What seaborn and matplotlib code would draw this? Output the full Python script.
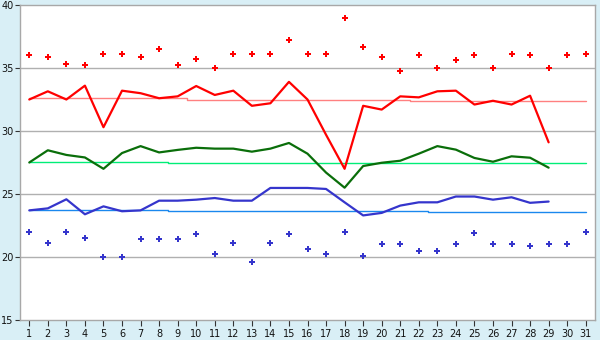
import numpy as np
import pandas as pd
import matplotlib
matplotlib.use("Agg")
import matplotlib.pyplot as plt
import seaborn as sns

days = list(range(1, 32))

# daily max (points) and min (points)
max_points = [36.0, 35.9, 35.3, 35.2, 36.1, 36.1, 35.85, 36.5, 35.2, 35.7,
              35.0, 36.1, 36.1, 36.1, 37.2, 36.1, 36.1, 39.0, 36.7, 35.9,
              34.8, 36.0, 35.0, 35.6, 36.0, 35.0, 36.1, 36.0, 35.0, 36.0, 36.1]
min_points = [22.0, 21.1, 22.0, 21.5, 20.0, 20.0, 21.4, 21.4, 21.4, 21.8,
              20.2, 21.1, 19.6, 21.1, 21.8, 20.6, 20.2, 22.0, 20.1, 21.0,
              21.0, 20.5, 20.5, 21.0, 21.9, 21.0, 21.0, 20.9, 21.0, 21.0, 22.0]

# lines (days 1-29)
line_days = list(range(1, 30))
max_line = [32.5, 33.15, 32.5, 33.6, 30.3, 33.2, 33.0, 32.6, 32.75, 33.57,
            32.86, 33.2, 32.0, 32.2, 33.9, 32.5, 29.7, 27.0, 32.0, 31.7,
            32.75, 32.67, 33.15, 33.2, 32.1, 32.4, 32.1, 32.8, 29.1]
mean_line = [27.5, 28.47, 28.1, 27.9, 27.0, 28.25, 28.8, 28.3, 28.5, 28.67,
             28.6, 28.6, 28.36, 28.6, 29.05, 28.2, 26.7, 25.5, 27.22, 27.48,
             27.64, 28.2, 28.8, 28.52, 27.86, 27.56, 27.99, 27.88, 27.09]
min_line = [23.7, 23.86, 24.58, 23.39, 24.02, 23.63, 23.7, 24.47, 24.47, 24.55,
            24.68, 24.47, 24.47, 25.48, 25.48, 25.48, 25.4, 24.34, 23.3, 23.5,
            24.08, 24.34, 24.34, 24.8, 24.8, 24.55, 24.74, 24.3, 24.4]

# normals (days 1-31)
max_normal = [32.6] * 9 + [32.5] * 12 + [32.4] * 10
mean_normal = [27.56] * 8 + [27.5] * 13 + [27.43] * 10
min_normal = [23.7] * 8 + [23.63] * 14 + [23.55] * 9

y_ticks = [15, 20, 25, 30, 35, 40]

sns.set_theme(style="white")
plt.rcParams['font.family'] = ['DejaVu Sans']

fig = plt.figure(figsize=(6.0, 3.4), dpi=100)
fig.patch.set_facecolor('#d9eff6')
ax = fig.add_axes([20/600, 1-320/340, 575/600, 315/340])
ax.set_facecolor('white')

for y in [20, 25, 30, 35]:
    ax.axhline(y, color='#b0b0b0', lw=1.0, zorder=0)

norm_df = pd.DataFrame({'day': days, 'max': max_normal, 'mean': mean_normal, 'min': min_normal})
for col, c in [('max', '#ff8080'), ('mean', '#00ee77'), ('min', '#1a88ee')]:
    sns.lineplot(data=norm_df, x='day', y=col, ax=ax, color=c, lw=1.0,
                 drawstyle='steps-mid', zorder=2)

line_df = pd.DataFrame({'day': line_days, 'max': max_line, 'mean': mean_line, 'min': min_line})
for col, c in [('max', '#ff0000'), ('mean', '#0a6e0a'), ('min', '#3535cc')]:
    sns.lineplot(data=line_df, x='day', y=col, ax=ax, color=c, lw=1.6, zorder=3)

pt_df = pd.DataFrame({'day': days, 'max': max_points, 'min': min_points})
sns.scatterplot(data=pt_df, x='day', y='max', ax=ax, color='#ff0000', marker='P',
                s=20, linewidth=0, zorder=4)
sns.scatterplot(data=pt_df, x='day', y='min', ax=ax, color='#3535cc', marker='P',
                s=20, linewidth=0, zorder=4)

ax.set_xlim(0.5, 31.5)
ax.set_ylim(15, 40)
ax.set_xticks(days)
ax.set_xticklabels([str(d) for d in days])
ax.set_yticks(y_ticks)
ax.set_xlabel('')
ax.set_ylabel('')
for s in ax.spines.values():
    s.set_color('#a8a8a8')
    s.set_linewidth(1.0)
ax.tick_params(axis='both', which='both', width=0.8, color='#333333',
               labelsize=7, labelcolor='#111111', direction='out')
ax.tick_params(axis='y', left=True, length=3.5, pad=1)
ax.tick_params(axis='x', bottom=True, length=4, pad=2.5)

fig.savefig('out.png', dpi=100, facecolor=fig.get_facecolor())
